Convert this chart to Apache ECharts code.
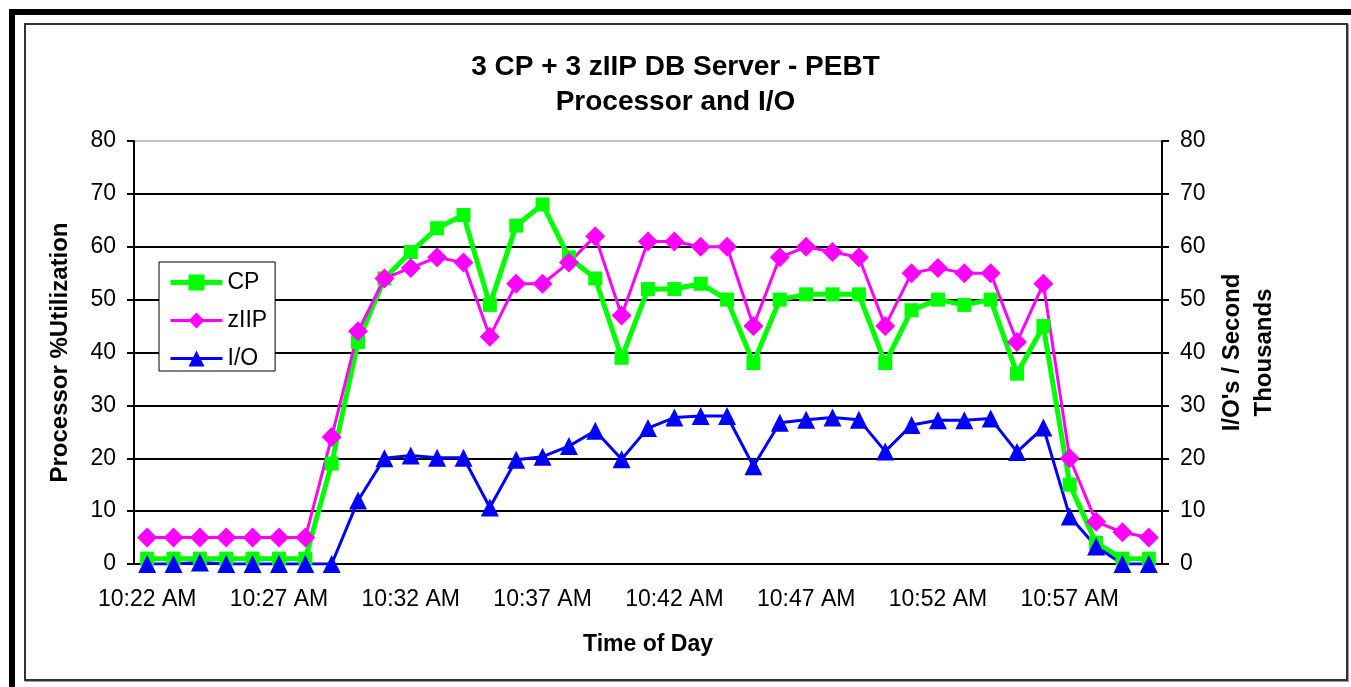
<!DOCTYPE html>
<html>
<head>
    <meta charset="utf-8">
    <script src="https://cdn.jsdelivr.net/npm/echarts@6.0.0/dist/echarts.min.js"></script>
    <style>
        body { margin: 0; background: #fff; }
        #outer { position: absolute; left: 9px; top: 9px; width: 1342px; height: 678px;
                 border-top: 6px solid #000; border-left: 6px solid #000; box-sizing: border-box; }
        #inner { position: absolute; left: 24px; top: 23px; width: 1324px; height: 658px;
                 border: 2px solid #333; box-sizing: border-box; box-shadow: 1px 1px 0 #999; }
        #main { position: absolute; left: 0; top: 0; width: 1351px; height: 687px; }
    </style>
</head>

<body>
    <div id="outer"></div>
    <div id="inner"></div>
    <div id="main"></div>
    <script type="text/javascript">
        // time of day, one point per minute
        var times = ['10:22 AM', '10:23 AM', '10:24 AM', '10:25 AM', '10:26 AM', '10:27 AM', '10:28 AM',
                     '10:29 AM', '10:30 AM', '10:31 AM', '10:32 AM', '10:33 AM', '10:34 AM', '10:35 AM',
                     '10:36 AM', '10:37 AM', '10:38 AM', '10:39 AM', '10:40 AM', '10:41 AM', '10:42 AM',
                     '10:43 AM', '10:44 AM', '10:45 AM', '10:46 AM', '10:47 AM', '10:48 AM', '10:49 AM',
                     '10:50 AM', '10:51 AM', '10:52 AM', '10:53 AM', '10:54 AM', '10:55 AM', '10:56 AM',
                     '10:57 AM', '10:58 AM', '10:59 AM', '11:00 AM'];

        // processor %utilization
        var cp   = [1, 1, 1, 1, 1, 1, 1, 19, 42, 54, 59, 63.5, 66, 49, 64, 68, 58, 54, 39, 52,
                    52, 53, 50, 38, 50, 51, 51, 51, 38, 48, 50, 49, 50, 36, 45, 15, 4, 1, 1];
        var ziip = [5, 5, 5, 5, 5, 5, 5, 24, 44, 54, 56, 58, 57, 43, 53, 53, 57, 62, 47, 61,
                    61, 60, 60, 45, 58, 60, 59, 58, 45, 55, 56, 55, 55, 42, 53, 20, 8, 6, 5];
        // I/O's per second, thousands
        var io   = [0, 0, 0.3, 0, 0, 0, 0, 0, 12, 20, 20.5, 20.1, 20.1, 10.7, 19.7, 20.3, 22.3, 25.2, 19.8, 25.7,
                    27.7, 28, 28, 18.5, 26.7, 27.3, 27.7, 27.3, 21.3, 26.3, 27.2, 27.2, 27.5, 21.2, 25.8, 9, 3.3, 0, 0];

        var font = "'Liberation Sans', Arial, sans-serif";

        option = {
            backgroundColor: 'transparent',
            textStyle: {fontFamily: font, color: '#000'},
            title: {
                text: '3 CP + 3 zIIP DB Server - PEBT\nProcessor and I/O',
                left: 'center',
                top: 45,
                padding: [5, 5, 5, 40],
                textStyle: {fontFamily: font, fontSize: 28, fontWeight: 'bold', color: '#000', lineHeight: 35}
            },
            legend: {
                orient: 'vertical',
                left: 159,
                top: 262,
                data: [
                    {name: 'CP', lineStyle: {width: 5}},
                    {name: 'zIIP', lineStyle: {width: 3}},
                    {name: 'I/O', lineStyle: {width: 3}}
                ],
                backgroundColor: '#fff',
                borderColor: '#000',
                borderWidth: 1,
                padding: [9, 8, 1, 9],
                itemWidth: 52,
                itemHeight: 20,
                itemGap: 15,
                textStyle: {fontFamily: font, fontSize: 23, color: '#000'}
            },
            grid: {
                left: 134,
                right: 189,
                top: 141,
                bottom: 123
            },
            xAxis: {
                type: 'category',
                boundaryGap: true,
                data: times,
                name: 'Time of Day',
                nameLocation: 'middle',
                nameGap: 69,
                nameTextStyle: {fontFamily: font, fontSize: 23, fontWeight: 'bold', color: '#000'},
                axisLine: {lineStyle: {color: '#000', width: 2}},
                axisTick: {interval: 4, length: 7, lineStyle: {color: '#000', width: 2}},
                axisLabel: {interval: 4, margin: 24, fontFamily: font, fontSize: 23, color: '#000'},
                splitLine: {show: false}
            },
            yAxis: [
                {
                    type: 'value',
                    min: 0,
                    max: 80,
                    interval: 10,
                    name: 'Processor %Utilization',
                    nameLocation: 'middle',
                    nameRotate: 90,
                    nameGap: 62,
                    nameTextStyle: {fontFamily: font, fontSize: 24, fontWeight: 'bold', color: '#000'},
                    axisLine: {show: true, lineStyle: {color: '#000', width: 2}},
                    axisTick: {show: true, length: 7, lineStyle: {color: '#000', width: 2}},
                    axisLabel: {margin: 18, fontFamily: font, fontSize: 23, color: '#000'},
                    splitLine: {
                        show: true,
                        lineStyle: {
                            width: 2,
                            color: ['#000', '#000', '#000', '#000', '#000', '#000', '#000', '#000', '#c0c0c0']
                        }
                    }
                },
                {
                    type: 'value',
                    position: 'right',
                    min: 0,
                    max: 80,
                    interval: 10,
                    name: "I/O's / Second\nThousands",
                    nameLocation: 'middle',
                    nameRotate: 90,
                    nameGap: 50,
                    nameTextStyle: {fontFamily: font, fontSize: 24, fontWeight: 'bold', color: '#000', lineHeight: 32},
                    axisLine: {show: true, lineStyle: {color: '#000', width: 2}},
                    axisTick: {show: true, length: 7, lineStyle: {color: '#000', width: 2}},
                    axisLabel: {margin: 18, fontFamily: font, fontSize: 23, color: '#000'},
                    splitLine: {show: false}
                }
            ],
            series: [
                {
                    name: 'CP',
                    type: 'line',
                    yAxisIndex: 0,
                    symbol: 'rect',
                    symbolSize: 14,
                    showAllSymbol: true,
                    clip: false,
                    itemStyle: {color: '#00ff00'},
                    lineStyle: {color: '#00ff00', width: 5},
                    data: cp
                },
                {
                    name: 'zIIP',
                    type: 'line',
                    yAxisIndex: 0,
                    symbol: 'diamond',
                    symbolSize: 20,
                    showAllSymbol: true,
                    clip: false,
                    itemStyle: {color: '#ff00ff'},
                    lineStyle: {color: '#ff00ff', width: 3},
                    data: ziip
                },
                {
                    name: 'I/O',
                    type: 'line',
                    yAxisIndex: 1,
                    symbol: 'triangle',
                    symbolSize: 18,
                    showAllSymbol: true,
                    clip: false,
                    itemStyle: {color: '#0000ff'},
                    lineStyle: {color: '#0000ff', width: 3},
                    data: io
                }
            ]
        };

        var myChart = echarts.init(document.getElementById('main'));
        myChart.setOption(option);
    </script>
</body>

</html>
